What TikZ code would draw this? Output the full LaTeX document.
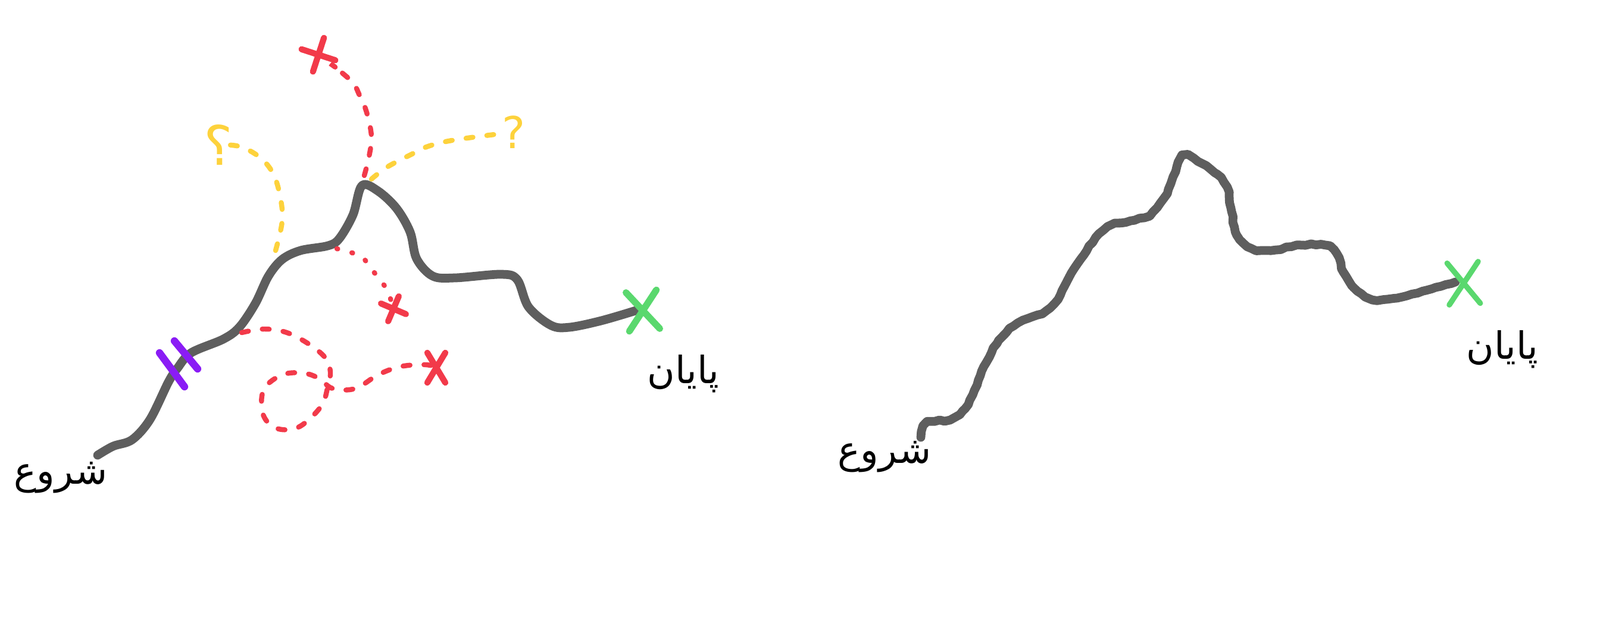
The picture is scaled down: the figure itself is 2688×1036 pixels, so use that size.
\documentclass[tikz,border=0pt]{standalone}
\usepackage{fontspec}
\usetikzlibrary{shapes.misc,decorations.pathmorphing}
\newfontfamily\arabicfont[Script=Arabic]{DejaVu Sans}
\TeXXeTstate=1
\definecolor{RouteGray}{HTML}{5E5E5E}
\definecolor{DeadRed}{HTML}{F23A4A}
\definecolor{GuessYellow}{HTML}{FDD23C}
\definecolor{CutPurple}{HTML}{8A1CF5}
\definecolor{GoalGreen}{HTML}{5AD86E}

\begin{document}
\begin{tikzpicture}[x=0.01cm, y=-0.01cm,
    route/.style={line width=4.2pt, RouteGray, line cap=round, line join=round},
    roughroute/.style={route, decorate,
      decoration={random steps, segment length=2.5pt, amplitude=0.35pt}},
    branch/.style={line width=2.4pt, dash pattern=on 3.3pt off 6.7pt, line cap=round},
    dotbranch/.style={line width=2.4pt, dash pattern=on 0.4pt off 7pt, line cap=round},
    xmark/.style={cross out, draw, line width=2.9pt, line cap=round, inner sep=0pt},
    wordtext/.style={font=\arabicfont\fontsize{18}{22}\selectfont, text=black}]
        \useasboundingbox (0,0) rectangle (2688,1036);
        % Left sketch: the route with its dead ends
        \coordinate (start1) at (164,765);
        \coordinate (goal1) at (1068,522);
        \draw[route] plot[smooth, tension=0.55] coordinates {(start1) (190,750)
          (222,739) (252,705) (283,642) (298,619) (321,593) (375,570) (402,550)
          (429,510) (451,464) (474,436) (505,421) (551,413) (570,401) (593,361)
          (608,312) (635,321) (666,350) (689,390) (700,435) (727,464) (765,467)
          (842,461) (869,470) (888,516) (926,547) (957,550) (1010,539) (goal1)};
        % Forks along the route
        \coordinate (forkloop) at (406,559);
        \coordinate (forkleft) at (463,421);
        \coordinate (forkdot) at (566,418);
        \coordinate (forktop) at (612,295);
        \coordinate (forkright) at (624,301);
        % Marks at the end of each branch
        \node[xmark, DeadRed, minimum size=0.32cm, rotate=27] (xtop) at (535,92) {};
        \node[xmark, DeadRed, minimum size=0.22cm, rotate=22] (xdot) at (661,519) {};
        \node[xmark, DeadRed, minimum width=0.2cm, minimum height=0.4cm] (xloop) at (733,618) {};
        \node[font=\arabicfont\fontsize{26}{30}\selectfont, text=GuessYellow]
          (qleft) at (367,244) {\beginR ؟\endR};
        \node[font=\arabicfont\fontsize{21}{25}\selectfont, text=GuessYellow]
          (qright) at (863,222) {?};
        % Dead ends (red) and open guesses (yellow)
        \draw[branch, DeadRed, shorten >=0.4cm] plot[smooth, tension=0.6]
          coordinates {(forktop) (620,263) (624,229) (616,189) (604,160) (588,134) (xtop)};
        \draw[branch, GuessYellow, shorten >=0.22cm] plot[smooth, tension=0.6]
          coordinates {(forkright) (650,281) (690,260) (719,246) (765,235) (qright)};
        \draw[branch, GuessYellow, shorten >=0.28cm] plot[smooth, tension=0.6]
          coordinates {(forkleft) (474,372) (471,332) (459,292) (436,264) (402,246) (qleft)};
        \draw[dotbranch, DeadRed, shorten >=0.18cm] plot[smooth, tension=0.6]
          coordinates {(forkdot) (605,430) (620,447) (631,461) (650,487) (xdot)};
        \draw[branch, DeadRed, shorten >=0.17cm] plot[smooth, tension=0.6]
          coordinates {(forkloop) (444,553) (482,559) (520,579) (547,602) (555,625)
          (551,648) (540,682) (505,716) (474,722) (451,711) (440,688) (444,653)
          (474,630) (509,627) (536,636) (559,653) (597,653) (635,630) (673,616)
          (715,613) (xloop)};
        % Cut across the route
        \draw[CutPurple, line width=3.5pt, line cap=round] (293,573) -- (332,620);
        \draw[CutPurple, line width=3.5pt, line cap=round] (268,593) -- (310,650);
        % Goal
        \node[xmark, GoalGreen, line width=3.2pt, minimum width=0.4cm,
          minimum height=0.54cm, rotate=5] (xgoal1) at (1080,522) {};
        \node[wordtext] (startleft) at (102,803) {\beginR شروع\endR};
        \node[wordtext] (endleft) at (1148,628) {\beginR پایان\endR};
        % Right sketch: the same route, drawn once
        \coordinate (start2) at (1547,735);
        \coordinate (goal2) at (2445,474);
        \draw[roughroute] plot[smooth, tension=0.55] coordinates {(start2) (1552,716)
          (1570,709) (1596,705) (1621,687) (1637,656) (1653,616) (1678,572)
          (1710,543) (1751,527) (1771,510) (1792,474) (1816,435) (1841,399)
          (1865,379) (1906,370) (1931,362) (1955,333) (1971,297) (1988,262)
          (2020,275) (2045,293) (2061,315) (2069,355) (2078,395) (2102,417)
          (2135,421) (2184,412) (2225,412) (2245,426) (2257,457) (2274,483)
          (2306,503) (2347,501) (2396,488) (goal2)};
        \node[xmark, GoalGreen, line width=2.6pt, minimum width=0.43cm,
          minimum height=0.61cm, rotate=3] (xgoal2) at (2459,476) {};
        \node[wordtext] (startright) at (1486,768) {\beginR شروع\endR};
        \node[wordtext] (endright) at (2524,587) {\beginR پایان\endR};
      \end{tikzpicture}
\end{document}
